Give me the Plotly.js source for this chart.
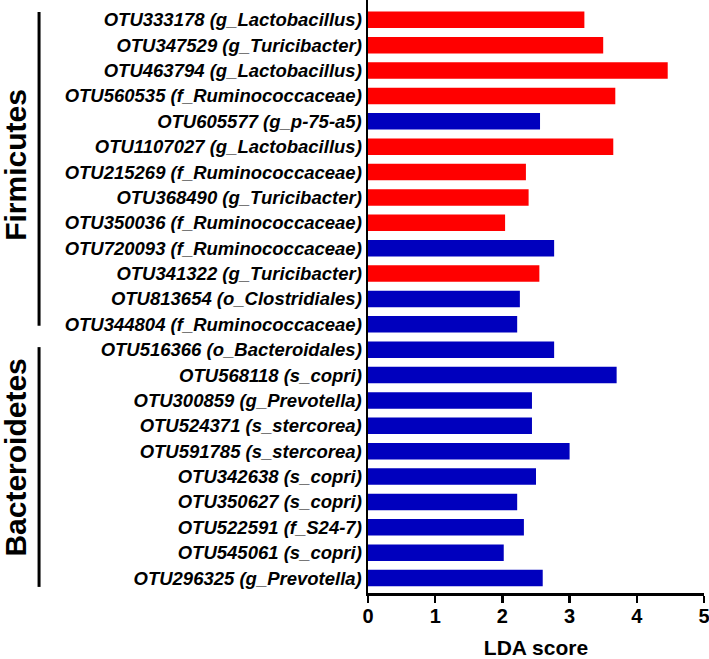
<!DOCTYPE html>
<html>
<head>
<meta charset="utf-8">
<script src="https://cdn.plot.ly/plotly-3.0.1.min.js"></script>
<style>html,body{margin:0;padding:0;background:#fff}#chart{width:709px;height:659px}</style>
</head>
<body>
<div id="chart"></div>
<script>
const labels = [
  "OTU333178 (g_Lactobacillus)",
  "OTU347529 (g_Turicibacter)",
  "OTU463794 (g_Lactobacillus)",
  "OTU560535 (f_Ruminococcaceae)",
  "OTU605577 (g_p-75-a5)",
  "OTU1107027 (g_Lactobacillus)",
  "OTU215269 (f_Ruminococcaceae)",
  "OTU368490 (g_Turicibacter)",
  "OTU350036 (f_Ruminococcaceae)",
  "OTU720093 (f_Ruminococcaceae)",
  "OTU341322 (g_Turicibacter)",
  "OTU813654 (o_Clostridiales)",
  "OTU344804 (f_Ruminococcaceae)",
  "OTU516366 (o_Bacteroidales)",
  "OTU568118 (s_copri)",
  "OTU300859 (g_Prevotella)",
  "OTU524371 (s_stercorea)",
  "OTU591785 (s_stercorea)",
  "OTU342638 (s_copri)",
  "OTU350627 (s_copri)",
  "OTU522591 (f_S24-7)",
  "OTU545061 (s_copri)",
  "OTU296325 (g_Prevotella)"
];
const ldaScores = [3.22, 3.50, 4.46, 3.68, 2.56, 3.65, 2.35, 2.39, 2.04, 2.77, 2.55, 2.26, 2.22,
                   2.77, 3.70, 2.44, 2.44, 3.00, 2.50, 2.22, 2.32, 2.02, 2.60];
const enrichedGroup = ["red","red","red","red","blue","red","red","red","red","blue","red","blue","blue",
                       "blue","blue","blue","blue","blue","blue","blue","blue","blue","blue"];
const phyla = ["Firmicutes", "Bacteroidetes"];
const phylumFirst = [0, 13];
const phylumLast = [12, 22];

const colorMap = {red: "#FF0000", blue: "#0000BE"};
const font = "Liberation Sans, Arial, Helvetica, sans-serif";

const trace = {
  type: "bar",
  orientation: "h",
  x: ldaScores,
  y: labels,
  marker: {color: enrichedGroup.map(g => colorMap[g]), line: {width: 0}},
  hoverinfo: "x+y"
};

const shapes = [
  {type: "line", xref: "paper", yref: "y", x0: -0.979, x1: -0.979,
   y0: phylumFirst[0] - 0.31, y1: phylumLast[0] + 0.06, line: {color: "#000", width: 3}},
  {type: "line", xref: "paper", yref: "y", x0: -0.979, x1: -0.979,
   y0: phylumFirst[1] - 0.1, y1: phylumLast[1] + 0.35, line: {color: "#000", width: 3}}
];

const annotations = [
  {text: "<b>" + phyla[0] + "</b>", xref: "paper", yref: "y", x: -1.048, y: 5.72,
   xanchor: "center", yanchor: "middle",
   textangle: -90, showarrow: false, font: {family: font, size: 30, color: "#000"}},
  {text: "<b>" + phyla[1] + "</b>", xref: "paper", yref: "y", x: -1.048, y: 17.26,
   xanchor: "center", yanchor: "middle",
   textangle: -90, showarrow: false, font: {family: font, size: 30, color: "#000"}}
];

const layout = {
  width: 709, height: 659,
  margin: {l: 368, r: 5, t: 0, b: 66, pad: 0},
  paper_bgcolor: "#fff", plot_bgcolor: "#fff",
  bargap: 0.35,
  showlegend: false,
  xaxis: {
    range: [0, 5], dtick: 1, tick0: 0,
    showgrid: false, zeroline: false,
    showline: true, linecolor: "#000", linewidth: 2.5,
    ticks: "outside", ticklen: 7, tickwidth: 2.5, tickcolor: "#000",
    ticklabeloverflow: "allow", ticklabelstandoff: -4,
    tickfont: {family: font, size: 20, color: "#000", weight: "bold"},
    title: {text: "<b>LDA score</b>", font: {family: font, size: 21, color: "#000"}, standoff: 18}
  },
  yaxis: {
    type: "category",
    range: [22.59, -0.78],
    showgrid: false, zeroline: false,
    showline: true, linecolor: "#000", linewidth: 2.5,
    ticks: "", ticklabelstandoff: 0,
    tickfont: {family: font, size: 18.5, color: "#000", weight: "bold", style: "italic"}
  },
  shapes: shapes,
  annotations: annotations
};

Plotly.newPlot("chart", [trace], layout, {displayModeBar: false, staticPlot: true});
</script>
</body>
</html>
